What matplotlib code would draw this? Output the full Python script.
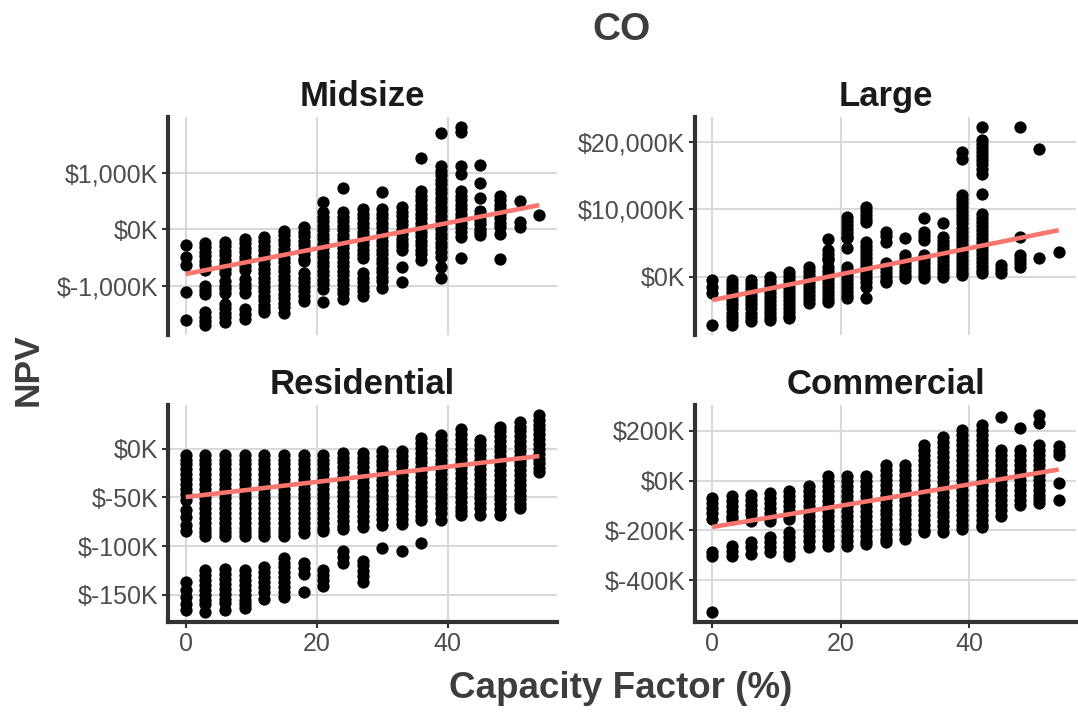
import numpy as np
import matplotlib
matplotlib.use("Agg")
import matplotlib.pyplot as plt

plt.rcParams['font.family'] = ['Liberation Sans', 'DejaVu Sans']

# capacity factor (%) for every column of points
cf = [0, 3, 6, 9, 12, 15, 18, 21, 24, 27, 30, 33, 36, 39, 42, 45, 48, 51, 54]

# NPV values in $K, one list per capacity factor column
mid_npv = [
    [-280, -485, -630, -1115, -1605],
    [-240, -320, -400, -480, -560, -640, -720, -1010, -1080, -1155, -1475, -1550, -1630, -1700],
    [-220, -300, -380, -460, -540, -620, -700, -775, -920, -1000, -1060, -1125, -1330, -1400, -1480, -1560, -1650],
    [-165, -245, -325, -405, -485, -565, -645, -715, -890, -970, -1050, -1125, -1415, -1500, -1590],
    [-135, -215, -295, -375, -455, -535, -615, -695, -775, -855, -935, -1015, -1095, -1175, -1255, -1335, -1415, -1475],
    [-20, -100, -180, -260, -340, -420, -500, -580, -660, -740, -820, -900, -980, -1060, -1140, -1220, -1300, -1380, -1480],
    [40, -40, -120, -200, -280, -360, -440, -520, -570, -775, -855, -935, -1015, -1095, -1175, -1270],
    [495, 305, 225, 145, 65, -15, -95, -175, -255, -335, -415, -495, -575, -655, -735, -815, -895, -975, -1065, -1290],
    [730, 305, 225, 145, 65, -15, -95, -175, -255, -335, -415, -495, -575, -655, -735, -815, -895, -975, -1055, -1135, -1240],
    [360, 280, 200, 120, 40, -40, -120, -200, -280, -360, -440, -515, -775, -855, -935, -1015, -1095, -1185],
    [665, 360, 280, 200, 120, 40, -40, -120, -200, -280, -360, -440, -520, -600, -680, -760, -840, -920, -1040],
    [390, 310, 230, 150, 70, -10, -90, -170, -250, -300, -365, -660, -940],
    [1265, 680, 600, 520, 440, 360, 280, 200, 120, 40, -40, -120, -200, -280, -360, -440, -540],
    [1715, 1120, 1040, 960, 880, 800, 720, 640, 560, 480, 400, 320, 240, 160, 80, 0, -80, -160, -240, -320, -400, -485, -660, -865],
    [1820, 1730, 1120, 975, 680, 600, 520, 440, 360, 280, 200, 120, 40, -40, -135, -515],
    [1150, 830, 565, 330, 250, 170, 90, 10, -50, -105],
    [595, 515, 435, 355, 275, 195, 115, 35, -75, -530],
    [505, 130, 40],
    [260],
]
mid_fit = [-793, 431]

large_npv = [
    [-495, -1480, -2470, -7165],
    [-500, -1100, -1700, -2300, -2900, -3500, -4100, -4700, -5300, -5900, -6500, -7100],
    [-500, -1100, -1700, -2300, -2900, -3500, -4100, -4700, -5300, -5900, -6500],
    [0, -600, -1200, -1800, -2400, -3000, -3600, -4200, -4800, -5400, -6000, -6420],
    [740, 140, -460, -1060, -1660, -2260, -2860, -3460, -4060, -4660, -5260, -5860, -6175],
    [1480, 880, 280, -320, -920, -1520, -2120, -2720, -3320, -3950],
    [5535, 3950, 3350, 2750, 2470, 1480, 880, 280, -320, -920, -1520, -2120, -2720, -3320, -3705],
    [8890, 8290, 7690, 7090, 6490, 5880, 5680, 4200, 1480, 880, 280, -320, -920, -1520, -2120, -2720, -3210],
    [10375, 9775, 9175, 8575, 8150, 5185, 4585, 3985, 3385, 2785, 2185, 1585, 985, 385, -215, -815, -1480, -3110],
    [6670, 6070, 5185, 1975, 1375, 775, 175, -425, -740],
    [5780, 3210, 2610, 2010, 1410, 810, 210, -245],
    [8745, 6670, 6070, 5435, 3210, 2610, 2010, 1410, 810, 210, -245],
    [8050, 5930, 5330, 4730, 4130, 3530, 2930, 2330, 1730, 1130, 530, 0],
    [18525, 17535, 12105, 11505, 10905, 10305, 9705, 9105, 8505, 7905, 7305, 6705, 6105, 5505, 4905, 4305, 3705,
     3105, 2505, 1905, 1305, 705, 250],
    [22230, 20255, 19655, 19055, 18455, 17855, 17255, 16655, 16055, 15315, 12350, 9385, 8785, 8185, 7585, 6985,
     6385, 5785, 5185, 4585, 3985, 3385, 2785, 2185, 1585, 985, 495],
    [1730, 1130, 495],
    [22230, 5930, 3210, 2610, 2010, 1480],
    [19020, 2715],
    [3705],
]
large_fit = [-3460, 6915]

res_npv = [
    [-6, -11, -16, -21, -26, -31, -36, -41, -46, -53, -63, -70, -78, -85, -137, -145, -152, -160, -166],
    [-6, -11, -16, -21, -26, -31, -36, -41, -46, -51, -56, -61, -66, -71, -76, -81, -86, -90,
     -125, -130, -135, -140, -145, -150, -155, -160, -168],
    [-6, -11, -16, -21, -26, -31, -36, -41, -46, -51, -56, -61, -66, -71, -76, -81, -86, -90,
     -124, -129, -134, -139, -144, -149, -154, -159, -166],
    [-6, -11, -16, -21, -26, -31, -36, -41, -46, -51, -56, -61, -66, -71, -76, -81, -86, -90,
     -125, -130, -135, -140, -145, -150, -155, -160, -164],
    [-6, -11, -16, -21, -26, -31, -36, -41, -46, -51, -56, -61, -66, -71, -76, -81, -86, -90,
     -122, -127, -132, -137, -142, -147, -154],
    [-6, -11, -16, -21, -26, -31, -36, -41, -46, -51, -56, -61, -66, -71, -76, -81, -86, -90,
     -112, -117, -122, -127, -132, -137, -142, -147, -152],
    [-6, -11, -16, -21, -26, -31, -36, -41, -46, -51, -56, -61, -66, -71, -76, -81, -87,
     -117, -123, -129, -147],
    [-6, -11, -16, -21, -26, -31, -36, -41, -46, -51, -56, -61, -66, -71, -76, -81, -85,
     -125, -130, -135, -141],
    [-4, -9, -14, -19, -24, -29, -34, -39, -44, -49, -54, -59, -64, -69, -74, -79, -82, -105, -111, -117],
    [-4, -9, -14, -19, -24, -29, -34, -39, -44, -49, -54, -59, -64, -69, -74, -80, -115, -120, -126, -131, -137],
    [-2, -7, -12, -17, -22, -27, -32, -37, -42, -47, -52, -57, -62, -67, -72, -78, -102],
    [-2, -7, -12, -17, -22, -27, -32, -37, -42, -47, -52, -57, -62, -67, -72, -77, -105],
    [11, 6, 1, -4, -9, -14, -19, -24, -29, -34, -39, -44, -49, -54, -59, -64, -69, -73, -97],
    [14, 9, 4, -1, -6, -11, -16, -21, -26, -31, -36, -41, -46, -51, -56, -61, -66, -73],
    [20, 15, 10, 5, 0, -5, -10, -15, -20, -25, -30, -35, -40, -45, -50, -55, -60, -64, -68],
    [9, 4, -1, -6, -11, -16, -21, -26, -31, -36, -41, -46, -51, -56, -61, -68],
    [23, 18, 13, 8, 3, -2, -7, -12, -17, -22, -27, -32, -37, -42, -47, -52, -57, -62, -68],
    [28, 23, 18, 13, 8, 3, -2, -7, -12, -17, -22, -27, -32, -37, -42, -47, -52, -57, -61],
    [35, 30, 25, 20, 15, 10, 5, 0, -5, -10, -15, -20, -24],
]
res_fit = [-49.6, -7.4]

com_npv = [
    [-69, -89, -109, -129, -155, -288, -301, -527],
    [-62, -82, -102, -122, -142, -155, -261, -281, -301],
    [-56, -76, -96, -116, -136, -162, -248, -268, -295],
    [-49, -69, -89, -109, -129, -149, -162, -228, -248, -268, -288],
    [-42, -62, -82, -102, -122, -142, -155, -208, -228, -248, -268, -288, -301],
    [-23, -43, -63, -83, -103, -123, -143, -163, -183, -203, -223, -243, -268],
    [17, -3, -23, -43, -63, -83, -103, -123, -143, -163, -183, -203, -223, -243, -261],
    [17, -3, -23, -43, -63, -83, -103, -123, -143, -163, -183, -203, -223, -243, -261],
    [17, -3, -23, -43, -63, -83, -103, -123, -143, -163, -183, -203, -223, -243, -255],
    [64, 44, 24, 4, -16, -36, -56, -76, -96, -116, -136, -156, -176, -196, -216, -236, -248],
    [64, 44, 24, 4, -16, -36, -56, -76, -96, -116, -136, -156, -176, -196, -216, -235],
    [143, 123, 103, 83, 63, 43, 23, 3, -17, -37, -57, -77, -97, -117, -137, -157, -177, -197, -208],
    [176, 156, 136, 116, 96, 76, 56, 36, 16, -4, -24, -44, -64, -84, -104, -124, -144, -164, -184, -208],
    [203, 183, 163, 143, 123, 103, 83, 63, 43, 23, 3, -17, -37, -57, -77, -97, -117, -137, -157, -177, -195],
    [223, 203, 183, 163, 143, 123, 103, 83, 63, 43, 23, 3, -17, -37, -57, -77, -97, -117, -137, -157, -177, -188],
    [256, 123, 103, 83, 63, 43, 23, 3, -17, -37, -57, -77, -97, -117, -142],
    [210, 123, 103, 83, 63, 43, 23, 3, -17, -37, -57, -77, -96],
    [263, 230, 143, 123, 103, 83, 63, 43, 23, 3, -17, -37, -57, -73, -89],
    [137, 120, 104, -9, -76],
]
com_fit = [-186, 44]

panels = [
    ("Midsize", mid_npv, mid_fit, [-1000, 0, 1000]),
    ("Large", large_npv, large_fit, [0, 10000, 20000]),
    ("Residential", res_npv, res_fit, [-150, -100, -50, 0]),
    ("Commercial", com_npv, com_fit, [-400, -200, 0, 200]),
]

W, H = 1078, 713
# panel boxes in pixels: left, top, right, bottom
boxes = [(168, 117, 557, 335), (695, 117, 1076, 335),
         (168, 405, 557, 622), (695, 405, 1076, 622)]

fig = plt.figure(figsize=(W / 100, H / 100), dpi=100)

axis_col = '#333333'
for i, (name, npv, fit, yt) in enumerate(panels):
    l, t, r, b = boxes[i]
    ax = fig.add_axes([l / W, 1 - b / H, (r - l) / W, (b - t) / H])
    xs = np.concatenate([[c] * len(v) for c, v in zip(cf, npv)])
    ys = np.concatenate(npv)
    ax.scatter(xs, ys, s=78, color='black', linewidths=0, zorder=3)
    ax.plot([cf[0], cf[-1]], fit, color='#F8766D', lw=3.3, zorder=4, solid_capstyle='butt')

    lo, hi = ys.min(), ys.max()
    pad = 0.05 * (hi - lo)
    ax.set_ylim(lo - pad, hi + pad)
    ax.set_xlim(-2.7, 56.7)
    ax.set_yticks(yt)
    ax.set_yticklabels([f"${v:,.0f}K" for v in yt])
    ax.set_xticks([0, 20, 40])
    ax.grid(True, color='#D9D9D9', lw=1.5)
    ax.set_axisbelow(True)
    for s in ['top', 'right']:
        ax.spines[s].set_visible(False)
    ax.spines['left'].set_linewidth(3)
    ax.spines['left'].set_color(axis_col)
    ax.spines['bottom'].set_linewidth(3)
    ax.spines['bottom'].set_color(axis_col)
    ax.tick_params(axis='both', colors=axis_col, labelcolor='#4D4D4D', labelsize=18,
                   length=4, width=1.5, pad=3)
    if i < 2:
        ax.spines['bottom'].set_visible(False)
        ax.tick_params(axis='x', length=0, labelbottom=False)
    ax.set_title(name, fontsize=25, fontweight='bold', color='#1A1A1A', pad=8)

fig.text(621 / W, 1 - 30 / H, "CO", ha='center', va='center', fontsize=28,
         fontweight='bold', color='#3D3D3D')
fig.text(621 / W, 1 - 689 / H, "Capacity Factor (%)", ha='center', va='center',
         fontsize=26.5, fontweight='bold', color='#3D3D3D')
fig.text(28 / W, 1 - 370 / H, "NPV", ha='center', va='center', rotation=90,
         fontsize=25.5, fontweight='bold', color='#3D3D3D')

fig.savefig("out.png", dpi=100)
